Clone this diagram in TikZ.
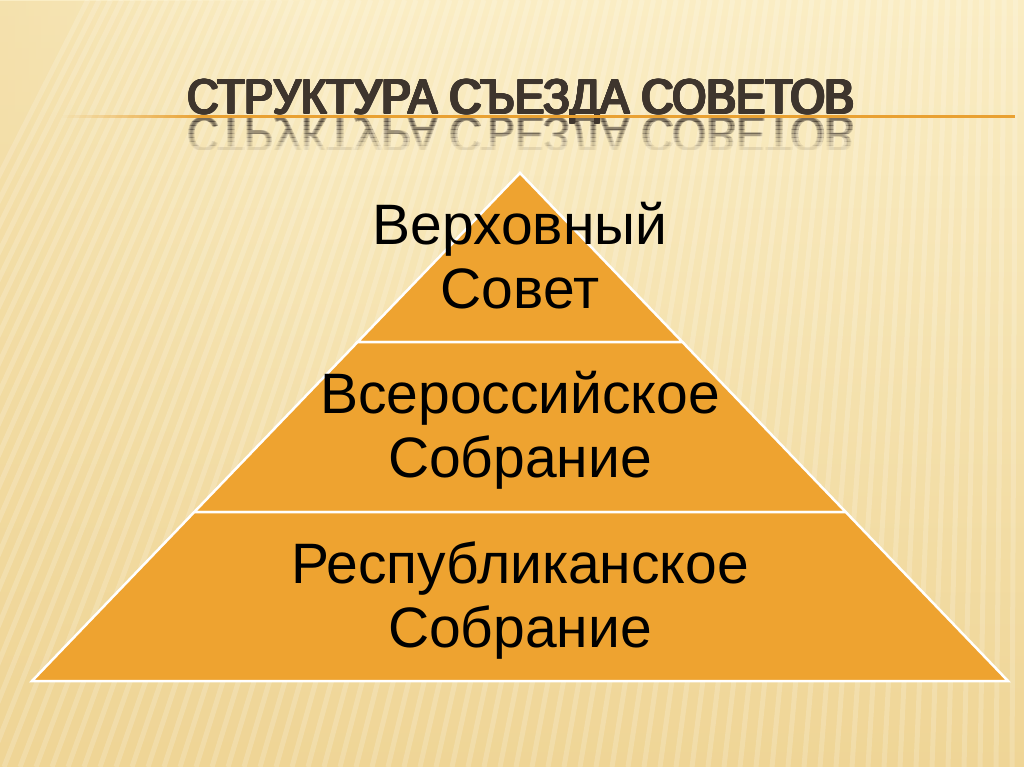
\documentclass[tikz,border=0pt]{standalone}
\usepackage{fontspec}
\setmainfont{Liberation Sans}
\usetikzlibrary{positioning,fadings}

\definecolor{bgtop}{HTML}{FAEDC4}
\definecolor{bgbot}{HTML}{EFD596}
\definecolor{layer}{HTML}{EEA330}
\definecolor{ttl}{HTML}{3E352D}
\definecolor{rule}{HTML}{E9A132}
\tikzfading[name=fadein, left color=transparent!100, right color=transparent!0]
\tikzfading[name=fadeout, left color=transparent!0, right color=transparent!100]
\newcommand\ttltext{СТРУКТУРА СЪЕЗДА СОВЕТОВ}

\begin{document}
\begin{tikzpicture}[x=1pt, y=-1pt,
  lvl/.style={fill=layer, draw=white, line width=2.5pt, line join=miter},
  lbl/.style={align=center, font=\fontsize{57}{64}\selectfont, text=black},
  ttlfont/.style={font=\fontsize{49}{49}\selectfont, text=ttl}]
  \useasboundingbox (0,0) rectangle (1024,767);
  \fill[top color=bgtop, bottom color=bgbot] (0,0) rectangle (1024,767);
  \fill[bgbot, opacity=0.5, path fading=fadeout] (0,0) rectangle (300,767);
  \foreach \i in {-300,-284,...,1040}{
    \pgfmathsetmacro\j{\i+300*(1-\i/1024)}
    \draw[white, opacity=0.18, line width=5pt] (\i,767) -- (\j,0);
  }

  \foreach \dx in {0,0.8,1.6,2.4}
    \foreach \dy in {0,0.8,1.6}
      \node[ttlfont, anchor=base] at (519.8+\dx,113.2+\dy) {\scalebox{0.9}[1]{\ttltext}};
  \node[ttlfont, anchor=base] (title) at (521,114) {\scalebox{0.9}[1]{\ttltext}};
  \foreach \k in {0,...,7}{
    \pgfmathsetmacro\op{0.32*(1-\k/8)}
    \begin{scope}
      \clip (0,118+4*\k) rectangle (1024,122+4*\k);
      \foreach \dx in {0,1.2,2.4}
        \node[ttlfont, anchor=base, opacity=\op] at (519.8+\dx,118) {\scalebox{0.9}[-1]{\ttltext}};
    \end{scope}
  }
  \coordinate (r0) at (62,116.5);
  \coordinate (r1) at (200,116.5);
  \coordinate (r2) at (1015,116.5);
  \draw[rule, line width=3pt, path fading=fadein] (r0) -- (r1);
  \draw[rule, line width=3pt] (r1) -- (r2);

  \coordinate (apex) at (520,173);
  \coordinate (l1) at (357.6,342);
  \coordinate (r1) at (682.4,342);
  \coordinate (l2) at (194.3,512);
  \coordinate (r2) at (845.7,512);
  \coordinate (l3) at (32,681);
  \coordinate (r3) at (1008,681);
  \draw[lvl] (apex) -- (r1) -- (l1) -- cycle;
  \draw[lvl] (l1) -- (r1) -- (r2) -- (l2) -- cycle;
  \draw[lvl] (l2) -- (r2) -- (r3) -- (l3) -- cycle;

  \node[lbl] (1) at (520,256) {Верховный\\Совет};
  \node[lbl] (2) at (520,430) {Всероссийское\\Собрание};
  \node[lbl] (3) at (520,601) {Республиканское\\Собрание};
\end{tikzpicture}
\end{document}
